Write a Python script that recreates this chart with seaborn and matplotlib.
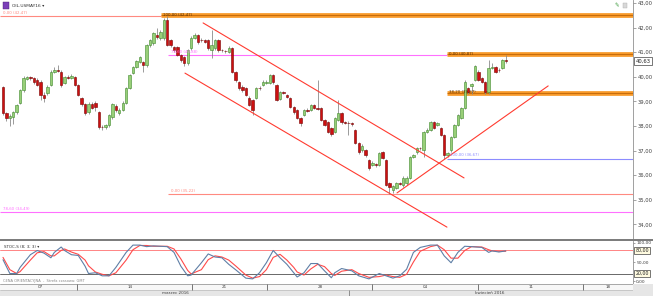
import matplotlib
matplotlib.use("Agg")
import matplotlib.pyplot as plt
from matplotlib.transforms import blended_transform_factory
from matplotlib.lines import Line2D
from matplotlib.patches import Rectangle
import numpy as np
import seaborn as sns

sns.set_theme(style="white")
plt.rcParams['font.family'] = ['DejaVu Sans']

# ---------------- data (H4 candles, OIL.USMAY16) ----------------
opens = [39.59, 38.53, 38.33, 38.37, 38.57, 38.94, 39.46, 39.91, 39.99, 39.95,
         39.87, 39.79, 39.26, 39.34, 39.67, 40.20, 40.28, 40.20, 39.75, 39.99,
         39.97, 39.99, 39.67, 39.14, 38.89, 38.57, 38.89, 38.94, 38.57, 37.96,
         37.96, 38.04, 38.37, 38.81, 38.53, 38.65, 38.94, 39.55, 40.15, 40.40,
         40.60, 40.60, 40.48, 41.29, 41.37, 41.70, 41.58, 41.58, 42.31, 41.50,
         41.21, 41.21, 40.89, 40.81, 40.56, 41.17, 41.58, 41.70, 41.50, 41.50,
         41.50, 41.09, 41.17, 41.50, 41.09, 41.05, 41.01, 41.17, 40.20, 39.79,
         39.59, 39.55, 39.14, 39.06, 39.14, 39.55, 39.67, 39.75, 39.75, 40.07,
         39.67, 39.10, 39.38, 39.26, 39.14, 38.77, 38.65, 38.33, 38.45, 38.65,
         38.65, 38.85, 38.73, 38.73, 38.24, 38.16, 37.92, 37.76, 38.24, 38.53,
         38.16, 38.12, 38.12, 37.84, 37.31, 37.02, 37.02, 36.62, 36.41, 36.45,
         36.41, 36.94, 36.62, 35.68, 35.40, 35.48, 35.68, 35.60, 35.68, 35.89,
         36.74, 36.94, 37.11, 37.02, 37.76, 37.84, 38.16, 38.04, 37.92, 37.63,
         36.82, 37.02, 37.55, 38.04, 38.33, 38.73, 39.55, 39.63, 39.87, 40.20,
         39.95, 39.79, 39.38, 40.36, 40.40, 40.28, 40.36, 40.68]
highs = [39.62, 38.57, 38.47, 38.62, 38.90, 39.50, 40.05, 40.04, 40.02, 39.99,
         39.95, 39.85, 39.40, 39.65, 40.26, 40.40, 40.50, 40.26, 40.05, 40.06,
         40.10, 40.05, 39.72, 39.18, 38.94, 38.96, 38.96, 39.00, 38.62, 38.05,
         38.10, 38.50, 38.94, 38.90, 38.72, 39.00, 39.60, 40.12, 40.45, 40.70,
         40.86, 40.66, 41.34, 41.55, 41.82, 41.98, 41.90, 42.40, 42.47, 41.55,
         41.25, 41.25, 40.93, 40.85, 41.13, 41.65, 41.80, 41.75, 41.58, 41.55,
         41.55, 41.90, 41.55, 41.55, 41.15, 41.10, 41.25, 41.21, 40.24, 39.83,
         39.65, 39.60, 39.20, 39.10, 39.60, 39.62, 39.85, 39.85, 40.12, 40.12,
         39.72, 39.44, 39.44, 39.32, 39.18, 38.81, 38.70, 38.37, 38.70, 38.72,
         38.90, 38.90, 39.87, 38.78, 38.28, 38.20, 37.96, 38.37, 39.06, 38.57,
         38.22, 38.20, 38.16, 37.88, 37.35, 37.25, 37.06, 36.66, 36.56, 36.50,
         36.95, 36.98, 36.66, 35.72, 35.62, 35.74, 35.74, 35.95, 35.95, 36.80,
         36.88, 37.16, 37.16, 37.80, 37.90, 38.22, 38.20, 38.18, 37.96, 37.67,
         36.96, 37.60, 38.10, 38.50, 38.78, 39.85, 39.60, 39.76, 40.50, 40.26,
         40.00, 39.84, 40.68, 40.56, 40.44, 40.34, 40.72, 40.89]
lows = [38.45, 38.20, 38.00, 38.10, 38.50, 38.90, 39.40, 39.85, 39.88, 39.72,
        39.62, 39.06, 38.96, 39.28, 39.62, 40.15, 40.18, 39.60, 39.70, 39.90,
        39.92, 39.62, 39.20, 38.80, 38.45, 38.50, 38.68, 38.60, 37.88, 37.85,
        37.88, 37.96, 38.30, 38.55, 38.45, 38.60, 38.90, 39.50, 40.10, 40.35,
        40.55, 40.20, 40.40, 41.22, 41.30, 41.55, 41.50, 41.50, 41.25, 41.20,
        41.02, 40.84, 40.62, 40.42, 40.50, 41.10, 41.52, 41.35, 41.42, 41.36,
        41.10, 40.76, 41.10, 41.02, 41.00, 40.98, 40.96, 40.15, 39.80, 39.48,
        39.40, 39.20, 38.80, 38.45, 39.08, 39.45, 39.62, 39.70, 39.70, 39.72,
        39.00, 39.04, 39.30, 39.12, 38.72, 38.50, 38.28, 38.00, 38.40, 38.58,
        38.60, 38.68, 38.65, 38.20, 37.98, 37.70, 37.60, 37.70, 38.20, 38.10,
        38.08, 37.63, 38.02, 37.25, 36.88, 36.96, 36.76, 36.22, 36.36, 36.35,
        36.36, 36.64, 35.55, 35.22, 35.28, 35.42, 35.60, 35.54, 35.62, 35.84,
        36.68, 36.88, 37.04, 36.76, 37.70, 37.78, 37.86, 37.98, 37.58, 36.67,
        36.76, 36.96, 37.50, 37.98, 38.28, 38.68, 39.32, 39.30, 39.82, 39.82,
        39.74, 39.30, 39.32, 40.30, 40.15, 40.18, 40.30, 40.55]
closes = [38.53, 38.33, 38.41, 38.57, 38.85, 39.46, 39.95, 39.99, 39.95, 39.79,
          39.67, 39.26, 39.14, 39.59, 40.20, 40.28, 40.24, 39.67, 39.99, 39.97,
          40.03, 39.67, 39.26, 38.89, 38.53, 38.89, 38.73, 38.77, 37.96, 37.94,
          38.04, 38.45, 38.89, 38.65, 38.65, 38.94, 39.55, 40.07, 40.40, 40.64,
          40.81, 40.48, 41.29, 41.50, 41.78, 41.62, 41.82, 42.31, 41.29, 41.29,
          41.09, 40.89, 40.68, 40.56, 41.09, 41.58, 41.70, 41.41, 41.48, 41.41,
          41.17, 41.29, 41.50, 41.09, 41.07, 41.03, 41.17, 40.20, 39.87, 39.55,
          39.46, 39.26, 38.85, 38.65, 39.55, 39.53, 39.79, 39.79, 40.07, 39.79,
          39.06, 39.38, 39.36, 39.18, 38.77, 38.57, 38.33, 38.12, 38.65, 38.63,
          38.85, 38.73, 38.71, 38.24, 38.04, 37.76, 37.67, 38.33, 38.53, 38.16,
          38.14, 38.11, 38.08, 37.31, 36.94, 37.19, 36.82, 36.29, 36.50, 36.41,
          36.90, 36.70, 35.60, 35.52, 35.56, 35.68, 35.66, 35.89, 35.89, 36.74,
          36.82, 37.11, 37.09, 37.76, 37.84, 38.16, 37.92, 38.12, 37.63, 36.82,
          36.90, 37.55, 38.04, 38.45, 38.73, 39.79, 39.38, 39.71, 40.44, 39.87,
          39.79, 39.38, 40.36, 40.40, 40.20, 40.26, 40.68, 40.63]

# Stochastic slow (8;3;3), sampled along candle index
stoch_idx = [0, 2, 4, 5, 8, 10, 12, 14, 15, 17, 18, 20, 22, 24, 25, 27, 29, 31, 33, 36,
             38, 40, 42, 44, 46, 48, 50, 52, 54, 55, 58, 60, 62, 64, 66, 68, 71, 73, 75, 77,
             79, 81, 83, 85, 86, 88, 90, 92, 94, 96, 97, 99, 102, 104, 107, 110, 112, 114, 116, 118,
             120, 122, 125, 127, 129, 131, 133, 135, 137, 140, 142, 143, 145, 147]
stoch_k = [56, 20, 20, 36, 69, 80, 73, 61, 75, 89, 80, 69, 67, 39, 20, 22, 14, 14, 36, 75,
           94, 94, 90, 92, 91, 90, 75, 39, 14, 16, 48, 71, 63, 61, 44, 30, 8, 6, 22, 48,
           80, 61, 44, 22, 11, 22, 46, 46, 27, 9, 22, 33, 27, 14, 6, 20, 14, 8, 14, 31,
           75, 88, 94, 94, 66, 48, 75, 91, 90, 88, 75, 79, 76, 79]
stoch_d = [62, 30, 20, 25, 55, 74, 77, 66, 66, 80, 84, 76, 70, 55, 40, 24, 18, 14, 22, 55,
           82, 93, 93, 91, 91, 91, 84, 58, 28, 19, 30, 56, 66, 63, 55, 40, 16, 8, 12, 30,
           62, 70, 55, 36, 24, 16, 32, 44, 38, 20, 15, 26, 30, 20, 10, 12, 16, 12, 10, 18,
           50, 78, 90, 94, 82, 60, 60, 80, 90, 89, 82, 79, 78, 78]

price_ticks = [34, 35, 36, 37, 38, 39, 40, 41, 42, 43]
stoch_ticks = [0, 50, 100]
last_price = 40.63

# Fibonacci level lines
line_levels = [42.47, 40.88, 35.22, 34.49, 36.67]
line_starts = [-0.9, 48.2, 48.2, -0.9, 129.8]
line_ends = [46.2, 129.8, 184.2, 184.2, 184.2]
line_labels = ["0,00 (42,47)", "78,60 (40,88)", "0,00 (35,22)", "78,60 (34,49)", "100,00 (36,67)"]
line_colors = ["#ff8a80", "#ff70ff", "#ff8a80", "#ff70ff", "#8c8cff"]

# Orange zones
band_levels = [42.50, 40.92, 39.36]
band_starts = [46.2, 129.8, 129.8]
band_labels = ["100,00 (42,47)", "0,00 (40,87)", "38,20 (39,37)"]

# Trend lines (channel + rising support)
trend_x0 = [58.5, 53.2, 115.2]
trend_y0 = [42.19, 40.15, 35.28]
trend_x1 = [134.8, 129.8, 159.4]
trend_y1 = [35.89, 33.89, 39.63]

date_labels = ['07', '14', '21', '28', '04', '11', '18']
date_label_pos = [10.8, 37.1, 64.6, 92.7, 123.4, 154.4, 176.9]
date_sep_pos = [21.6, 55.3, 77.2, 107.9, 138.9, 169.6]
month_labels = ['marzec 2016', 'kwiecień 2016']
month_pos = [50.3, 142.4]
month_sep_pos = [101.2]

XMIN, XMAX = -0.88, 184.2

# ---------------- figure ----------------
W, H = 653, 296
fig = plt.figure(figsize=(W / 100, H / 100), dpi=100)
fig.patch.set_facecolor("white")

ax = fig.add_axes([0, 57 / H, 633 / W, 239 / H])
ax_s = fig.add_axes([0, 12 / H, 633 / W, 43 / H], sharex=ax)
ax_d = fig.add_axes([0, 0, 633 / W, 12 / H], sharex=ax)

idx = np.arange(len(closes))
o = np.array(opens); c = np.array(closes)
hi = np.array(highs); lo = np.array(lows)
up = c >= o

# wicks
ax.vlines(idx, lo, hi, color="#8a8a8a", lw=0.6, zorder=3)
# bodies
body_bottom = np.minimum(o, c)
body_h = np.maximum(np.abs(c - o), 0.03)
ax.bar(idx[up], body_h[up], bottom=body_bottom[up], width=0.7,
       color="#98cf78", edgecolor="#3f8a2c", linewidth=0.4, zorder=4)
ax.bar(idx[~up], body_h[~up], bottom=body_bottom[~up], width=0.7,
       color="#cc1010", edgecolor="#7a0000", linewidth=0.4, zorder=4)

# level lines
for lvl, s, e, lab, col in zip(line_levels, line_starts, line_ends, line_labels, line_colors):
    ax.hlines(lvl, s, e, color=col, lw=0.8, zorder=2)
    ax.text(s + 0.9, lvl + 0.06, lab, color=col, fontsize=2.8, va="bottom", ha="left", zorder=6)

# orange zones
for lvl, s, lab in zip(band_levels, band_starts, band_labels):
    ax.hlines(lvl, s, XMAX, color="#f7941d", lw=3.4, zorder=2, alpha=0.95)
    ax.hlines(lvl, s, XMAX, color="#b35a00", lw=0.5, zorder=2)
    ax.text(s + 0.6, lvl + 0.02, lab, color="#5a3000", fontsize=2.8, va="center", ha="left", zorder=6)

# trend lines
for x0, y0, x1, y1 in zip(trend_x0, trend_y0, trend_x1, trend_y1):
    ax.plot([x0, x1], [y0, y1], color="#ff3b30", lw=0.8, zorder=5)

ax.set_xlim(XMIN, XMAX)
ax.set_ylim(33.407, 43.122)
ax.yaxis.tick_right()
ax.set_yticks(price_ticks)
ax.set_yticklabels([f"{t:.2f}".replace(".", ",") for t in price_ticks])
ax.tick_params(axis="y", labelsize=3.8, length=2, width=0.5, color="#808080",
               pad=1.2, labelcolor="#404040", right=True)
ax.tick_params(axis="x", bottom=False, labelbottom=False)
for sp in ["top", "left", "bottom"]:
    ax.spines[sp].set_visible(False)
ax.spines["right"].set_color("#909090")
ax.spines["right"].set_linewidth(0.6)

trb = blended_transform_factory(ax.transAxes, ax.transData)
ax.text(1.004, last_price, "40,63", transform=trb, fontsize=3.8, va="center", ha="left",
        color="#202020", bbox=dict(boxstyle="square,pad=0.25", fc="white", ec="#404040", lw=0.5))

# header
ax.add_patch(Rectangle((0.004, 0.962), 0.011, 0.03, transform=ax.transAxes,
                       fc="#7b3fb8", ec="#4a2070", lw=0.3, zorder=7))
ax.text(0.019, 0.976, "OIL.USMAY16 ▾", transform=ax.transAxes, fontsize=3.2,
        va="center", ha="left", color="#303030")
ax.text(0.975, 0.976, "✎", transform=ax.transAxes, fontsize=4, color="#3c9a3c",
        va="center", ha="center")
ax.add_patch(Rectangle((0.984, 0.966), 0.006, 0.02, transform=ax.transAxes,
                       fc="#d8d8d8", ec="#b0b0b0", lw=0.3))

# ---------------- stochastic ----------------
sns.lineplot(x=stoch_idx, y=stoch_d, ax=ax_s, color="#ff4a4a", lw=0.8, zorder=3)
sns.lineplot(x=stoch_idx, y=stoch_k, ax=ax_s, color="#5f7fa6", lw=0.8, zorder=4)
ax_s.axhline(80, color="#ff7070", lw=0.6, zorder=2)
ax_s.axhline(20, color="#505050", lw=0.6, zorder=2)
ax_s.set_ylim(-7.3, 104.7)
ax_s.set_xlim(XMIN, XMAX)
ax_s.yaxis.tick_right()
ax_s.set_yticks(stoch_ticks)
ax_s.set_yticklabels([f"{t:.2f}".replace(".", ",") for t in stoch_ticks])
ax_s.tick_params(axis="y", labelsize=3.2, length=1.5, width=0.5, color="#808080",
                 pad=0.8, labelcolor="#404040", right=True)
ax_s.tick_params(axis="x", bottom=False, labelbottom=False)
ax_s.set_xlabel(""); ax_s.set_ylabel("")
for sp in ["top", "left", "bottom"]:
    ax_s.spines[sp].set_visible(False)
ax_s.spines["right"].set_color("#909090")
ax_s.spines["right"].set_linewidth(0.6)
trs = blended_transform_factory(ax_s.transAxes, ax_s.transData)
for v in [80, 20]:
    ax_s.text(1.004, v, f"{v:.2f}".replace(".", ","), transform=trs, fontsize=3.4,
              va="center", ha="left", color="#202020",
              bbox=dict(boxstyle="square,pad=0.25", fc="#fffbe0", ec="#404040", lw=0.5))
ax_s.text(0.006, 0.86, "STOC-S (8; 3; 3) ▾", transform=ax_s.transAxes, fontsize=2.9,
          va="center", ha="left", color="#303030")
ax_s.text(0.004, 0.07, "CENA ORIENTACYJNA  -  Strefa czasowa: GMT", transform=ax_s.transAxes,
          fontsize=2.6, va="center", ha="left", color="#8a8a8a")

# ---------------- date strip ----------------
ax_d.set_xlim(XMIN, XMAX)
ax_d.set_ylim(0, 1)
ax_d.axis("off")
trd = blended_transform_factory(ax_d.transData, ax_d.transAxes)
ax_d.add_patch(Rectangle((0, 0), 1, 0.48, transform=ax_d.transAxes, fc="#e6e6e6", ec="none"))
ax_d.add_patch(Rectangle((0, 0.5), 1, 0.5, transform=ax_d.transAxes, fc="#f7f7f7", ec="none"))
ax_d.axhline(1.0, color="#9a9a9a", lw=0.6)
ax_d.axhline(0.5, color="#b0b0b0", lw=0.4)
for p, lab in zip(date_label_pos, date_labels):
    ax_d.text(p, 0.75, lab, transform=trd, fontsize=3.0, ha="center", va="center", color="#404040")
for p in date_sep_pos:
    ax_d.vlines(p, 0.5, 1.0, transform=trd, color="#606060", lw=0.6)
for p, lab in zip(month_pos, month_labels):
    ax_d.text(p, 0.24, lab, transform=trd, fontsize=3.0, ha="center", va="center", color="#404040")
for p in month_sep_pos:
    ax_d.vlines(p, 0.0, 0.5, transform=trd, color="#808080", lw=0.6)

# separators between panels
fig.add_artist(Line2D([0, 1], [1 - 240 / H, 1 - 240 / H], transform=fig.transFigure,
                      color="#7a7a7a", lw=1.4))
fig.add_artist(Rectangle((633 / W, 0), 20 / W, 12 / H, transform=fig.transFigure,
                         fc="#e6e6e6", ec="none"))

fig.savefig("out.png", dpi=100)
